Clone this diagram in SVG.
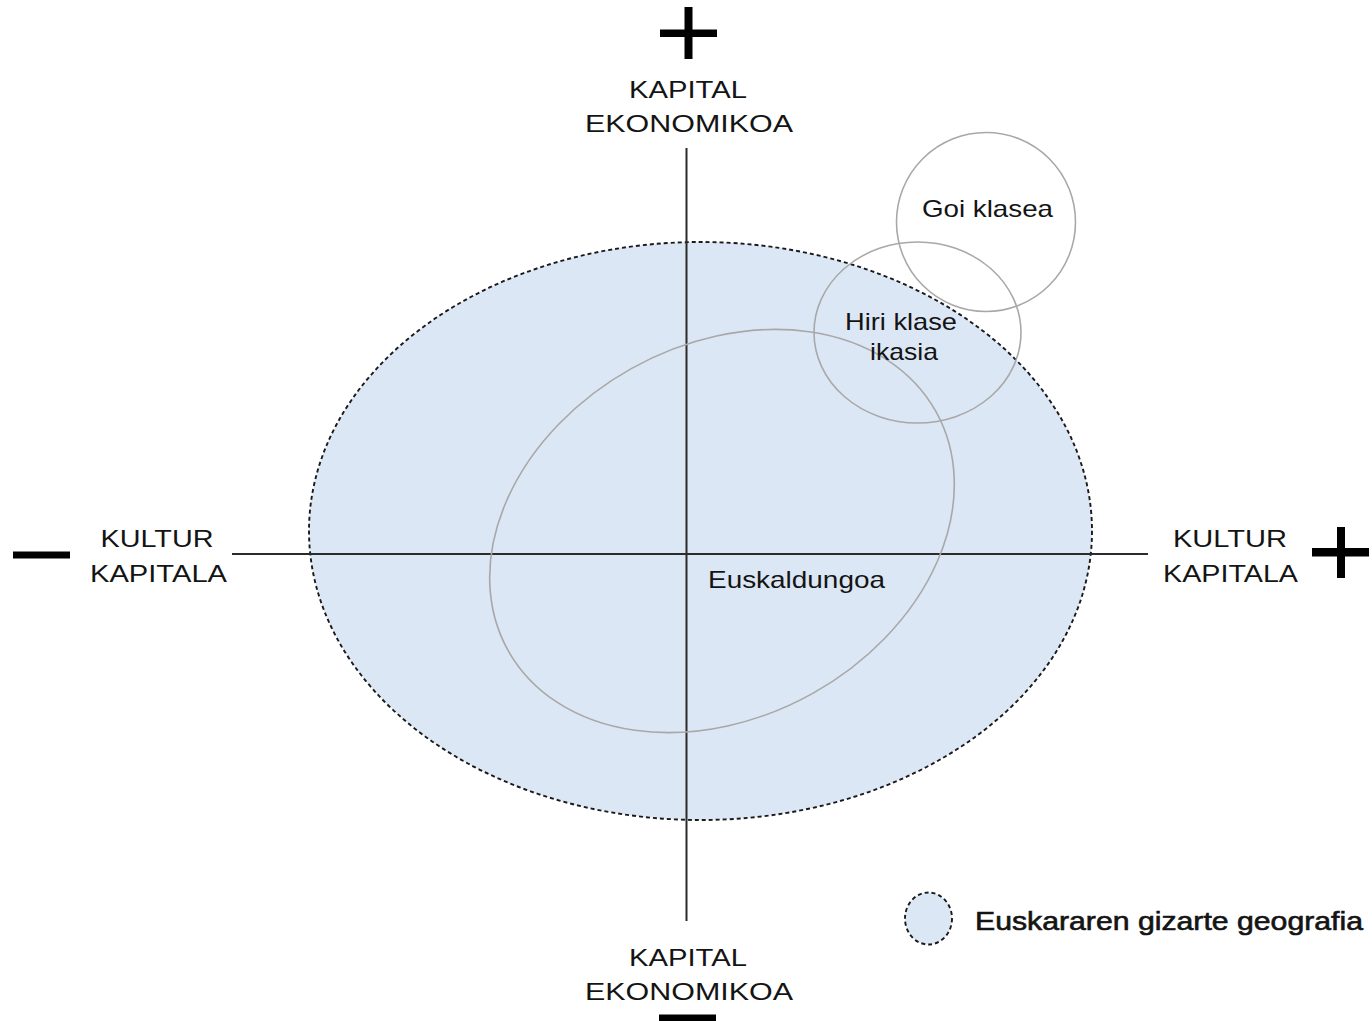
<svg xmlns="http://www.w3.org/2000/svg" width="1372" height="1021" viewBox="0 0 1372 1021">
<style>
text{font-family:"Liberation Sans",Arial,Helvetica,sans-serif;fill:#141414;}
.ax{font-size:24px;text-anchor:middle;}
.lbl{font-size:24px;text-anchor:middle;}
.grp{fill:none;stroke:#a8a8a8;stroke-width:1.6;}
.axis{stroke:#2b2b2b;stroke-width:2;}
.sign{fill:#000;}
.geo{fill:#dce7f5;stroke:#1a1a1a;stroke-width:1.9;stroke-dasharray:4 3;}
</style>
<rect width="1372" height="1021" fill="#fff"/>
<g id="geografia">
<ellipse class="geo" cx="700.5" cy="531" rx="391.5" ry="289"/>
</g>
<g id="connectors">
<line class="axis" x1="686.5" y1="148" x2="686.5" y2="921"/>
<line class="axis" x1="232" y1="554" x2="1148" y2="554"/>
</g>
<g id="euskaldungoa">
<ellipse class="grp" cx="722" cy="531" rx="245" ry="186" transform="rotate(-29.2 722 531)"/>
<text class="lbl" x="796.5" y="588" textLength="177" lengthAdjust="spacingAndGlyphs">Euskaldungoa</text>
</g>
<g id="hiri-klase-ikasia">
<ellipse class="grp" cx="917.5" cy="332.5" rx="103.5" ry="90.5"/>
<text class="lbl" x="901" y="330" textLength="112" lengthAdjust="spacingAndGlyphs">Hiri klase</text>
<text class="lbl" x="904" y="360" textLength="68" lengthAdjust="spacingAndGlyphs">ikasia</text>
</g>
<g id="goi-klasea">
<circle class="grp" cx="986" cy="222" r="89.5"/>
<text class="lbl" x="987.5" y="217" textLength="131" lengthAdjust="spacingAndGlyphs">Goi klasea</text>
</g>
<g id="top-label">
<rect class="sign" x="660" y="29.5" width="57" height="7.5"/>
<rect class="sign" x="684.5" y="7" width="8" height="52"/>
<text class="ax" x="688" y="98" textLength="118" lengthAdjust="spacingAndGlyphs">KAPITAL</text>
<text class="ax" x="689" y="132" textLength="208" lengthAdjust="spacingAndGlyphs">EKONOMIKOA</text>
</g>
<g id="bottom-label">
<text class="ax" x="688" y="966" textLength="118" lengthAdjust="spacingAndGlyphs">KAPITAL</text>
<text class="ax" x="689" y="1000" textLength="208" lengthAdjust="spacingAndGlyphs">EKONOMIKOA</text>
<rect class="sign" x="659" y="1014.5" width="57" height="8"/>
</g>
<g id="left-label">
<rect class="sign" x="13" y="551.5" width="57" height="7"/>
<text class="ax" x="157" y="547" textLength="113" lengthAdjust="spacingAndGlyphs">KULTUR</text>
<text class="ax" x="158.5" y="582" textLength="137" lengthAdjust="spacingAndGlyphs">KAPITALA</text>
</g>
<g id="right-label">
<text class="ax" x="1230" y="547" textLength="114" lengthAdjust="spacingAndGlyphs">KULTUR</text>
<text class="ax" x="1230.5" y="582" textLength="135" lengthAdjust="spacingAndGlyphs">KAPITALA</text>
<rect class="sign" x="1312" y="548" width="57" height="8.5"/>
<rect class="sign" x="1337" y="527" width="8" height="51"/>
</g>
<g id="legend">
<ellipse class="geo" cx="928.5" cy="918.5" rx="23.5" ry="26"/>
<text x="975" y="930" font-size="25" textLength="388" lengthAdjust="spacingAndGlyphs" stroke="#141414" stroke-width="0.6">Euskararen gizarte geografia</text>
</g>
</svg>
